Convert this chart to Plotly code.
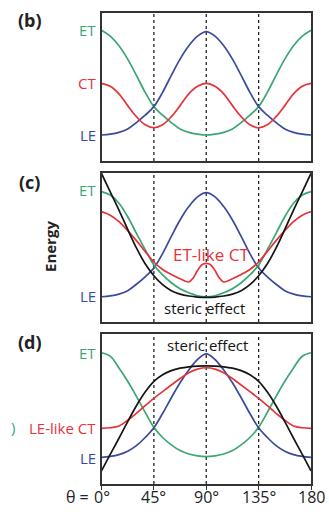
import plotly.graph_objects as go

# ---------------- data (energies in arbitrary units, 0 = box bottom, 100 = box top) ----------------
angles = [0, 7.5, 15, 22.5, 30, 37.5, 45, 52.5, 60, 67.5, 75, 82.5, 90,
          97.5, 105, 112.5, 120, 127.5, 135, 142.5, 150, 157.5, 165, 172.5, 180]
angles_ct_c = [0, 7.5, 15, 22.5, 30, 37.5, 45, 52.5, 60, 67.5, 75, 78.75, 82.5, 86.25, 90,
               93.75, 97.5, 101.25, 105, 112.5, 120, 127.5, 135, 142.5, 150, 157.5, 165, 172.5, 180]
dashed_angles = [45, 90, 135]

# panel (b)
b_ET = [88.5, 84.5, 78, 69, 58, 46.5, 36.8, 31, 26, 21.7, 19.4, 18.2, 17.6,
        18.2, 19.4, 21.7, 26, 31, 36.8, 46.5, 58, 69, 78, 84.5, 88.5]
b_CT = [52.6, 50.6, 45.5, 37.5, 30, 24.5, 22.5, 24.5, 30, 37.5, 45.5, 50.6, 52.6,
        50.6, 45.5, 37.5, 30, 24.5, 22.5, 24.5, 30, 37.5, 45.5, 50.6, 52.6]
b_LE = [17.6, 18.2, 19.4, 21.7, 26, 31, 36.8, 46.5, 58, 69, 78, 84.5, 87.6,
        84.5, 78, 69, 58, 46.5, 36.8, 31, 26, 21.7, 19.4, 18.2, 17.6]

# panel (c)
c_ET = [87.3, 85, 79.5, 70.5, 59.4, 48.5, 38.2, 31.5, 26.3, 22.3, 19.6, 17.6, 16.9,
        17.6, 19.6, 22.3, 26.3, 31.5, 38.2, 48.5, 59.4, 70.5, 79.5, 85, 87.3]
c_CT = [73.9, 71.5, 67.2, 61.2, 54.5, 47.3, 40.2, 35.2, 31.8, 29.0, 26.8, 29.5, 34.5, 38.3, 39.2,
        38.3, 34.5, 29.5, 26.8, 29.0, 31.8, 35.2, 40.2, 47.3, 54.5, 61.2, 67.2, 71.5, 73.9]
c_LE = [16.9, 17.5, 18.7, 21, 25.3, 30.3, 36.1, 45.8, 57.3, 68.3, 77.3, 83.8, 86.6,
        83.8, 77.3, 68.3, 57.3, 45.8, 36.1, 30.3, 25.3, 21, 18.7, 17.5, 16.9]
c_steric = [99.5, 87.2, 75, 62, 49.6, 39, 31, 25, 21, 18.7, 17.4, 16.7, 16.5,
            16.7, 17.4, 18.7, 21, 25, 31, 39, 49.6, 62, 75, 87.2, 99.5]

# panel (d)
d_ET = [87.5, 85.2, 77.4, 68.5, 58.4, 47.8, 37.8, 31, 26.1, 22.3, 20, 18.7, 18.2,
        18.7, 20, 22.3, 26.1, 31, 37.8, 47.8, 58.4, 68.5, 77.4, 85.2, 87.5]
d_CT = [37.1, 37.5, 38.7, 42.5, 47.1, 52.2, 57.1, 61.6, 66, 70.3, 74.2, 76.6, 77.5,
        76.6, 74.2, 70.3, 66, 61.6, 57.1, 52.2, 47.1, 42.5, 38.7, 37.5, 37.1]
d_LE = [17.8, 18.4, 19.6, 21.9, 25.6, 31, 37.5, 47, 57.5, 67.5, 76, 83, 86.7,
        83, 76, 67.5, 57.5, 47, 37.5, 31, 25.6, 21.9, 19.6, 18.4, 17.8]
d_steric = [8.8, 19.8, 30.5, 41.6, 52.2, 61.3, 68.4, 72.9, 75.6, 77.2, 78.1, 78.6, 78.7,
            78.6, 78.1, 77.2, 75.6, 72.9, 68.4, 61.3, 52.2, 41.6, 30.5, 19.8, 8.8]

tick_vals = [0, 45, 90, 135, 180]
tick_text = ["0°", "45°", "90°", "135°", "180"]
axis_title = "θ ="

# ---------------- style ----------------
W, H = 329, 512
GREEN, RED, BLUE, BLACK = "#3aa774", "#e5333b", "#3b4a9c", "#151515"
FONT = "Open Sans"

def px(x):
    return x / W

def py(y):
    return 1 - y / H

xdom = [px(101.5), px(311)]
panels = [  # (xaxis, yaxis, top_px, bottom_px)
    ("x", "y", 13.3, 161),
    ("x2", "y2", 172.7, 322),
    ("x3", "y3", 334, 484),
]

fig = go.Figure()

def curve(xs, ys, color, xa, ya):
    fig.add_trace(go.Scatter(x=xs, y=ys, mode="lines", xaxis=xa, yaxis=ya,
                             line=dict(color=color, width=1.7, shape="spline", smoothing=1.0),
                             hoverinfo="skip", showlegend=False))

for xa, ya, _, _ in panels:
    xs, ys = [], []
    for a in dashed_angles:
        xs += [a, a, None]
        ys += [0, 100, None]
    fig.add_trace(go.Scatter(x=xs, y=ys, mode="lines", xaxis=xa, yaxis=ya,
                             line=dict(color="#222", width=1.3, dash="dot"),
                             hoverinfo="skip", showlegend=False))

curve(angles, b_ET, GREEN, "x", "y")
curve(angles, b_LE, BLUE, "x", "y")
curve(angles, b_CT, RED, "x", "y")

curve(angles, c_LE, BLUE, "x2", "y2")
curve(angles, c_ET, GREEN, "x2", "y2")
curve(angles_ct_c, c_CT, RED, "x2", "y2")
curve(angles, c_steric, BLACK, "x2", "y2")

curve(angles, d_ET, GREEN, "x3", "y3")
curve(angles, d_LE, BLUE, "x3", "y3")
curve(angles, d_CT, RED, "x3", "y3")
curve(angles, d_steric, BLACK, "x3", "y3")

layout = dict(width=W, height=H, margin=dict(l=0, r=0, t=0, b=0),
              paper_bgcolor="white", plot_bgcolor="white", showlegend=False,
              font=dict(family=FONT, color="#222"))
for i, (xa, ya, top, bot) in enumerate(panels):
    xkey = "xaxis" if i == 0 else f"xaxis{i+1}"
    ykey = "yaxis" if i == 0 else f"yaxis{i+1}"
    last = (i == 2)
    layout[xkey] = dict(domain=xdom, range=[0, 180], anchor=ya, showline=True, mirror=True,
                        linecolor="#333", linewidth=1.5, showgrid=False, zeroline=False,
                        ticks="outside" if last else "", ticklen=4, tickcolor="#333",
                        tickvals=tick_vals, showticklabels=False, fixedrange=True)
    layout[ykey] = dict(domain=[py(bot), py(top)], range=[0, 100], anchor=xa, showline=True,
                        mirror=True, linecolor="#333", linewidth=1.5, showgrid=False,
                        zeroline=False, showticklabels=False, ticks="", fixedrange=True)
fig.update_layout(**layout)

def label(text, x, y, color="#222", size=15, anchor="right", bold=False, angle=0):
    if bold:
        text = f"<b>{text}</b>"
    fig.add_annotation(text=text, x=px(x), y=py(y), xref="paper", yref="paper",
                       xanchor=anchor, yanchor="middle", showarrow=False, textangle=angle,
                       font=dict(family=FONT, size=size, color=color))

# tick labels of the bottom axis (placed at the axis' data positions)
for v, t in zip(tick_vals, tick_text):
    fig.add_annotation(text=t, x=v, y=py(497), xref="x3", yref="paper", xanchor="center",
                       yanchor="middle", showarrow=False,
                       font=dict(family=FONT, size=16, color="#222"))
label(axis_title, 91, 497, size=16)

# panel letters
label("(b)", 30, 20, size=18, anchor="center", bold=True)
label("(c)", 29, 182, size=18, anchor="center", bold=True)
label("(d)", 30, 342, size=18, anchor="center", bold=True)

# (b) labels
label("ET", 98, 30, GREEN)
label("CT", 98, 83, RED)
label("LE", 98, 135, BLUE)

# (c) labels
label("ET", 98, 190, GREEN)
label("LE", 98, 296, BLUE)
label("Energy", 50, 247, size=15, anchor="center", bold=True, angle=-90)
label("ET-like CT", 211, 254, RED, size=17, anchor="center")
label("steric effect", 204, 308, BLACK, size=15, anchor="center")

# (d) labels
label("steric effect", 207, 345, BLACK, size=15, anchor="center")
label("ET", 98, 353, GREEN)
label("LE-like CT", 98, 428, RED)
label("LE", 98, 458, BLUE)
label(")", 13, 427, GREEN, size=15, anchor="center")

fig.write_html("out.html", config={"displayModeBar": False},
               post_script="document.body.style.margin='0px';document.body.style.overflow='hidden';")
